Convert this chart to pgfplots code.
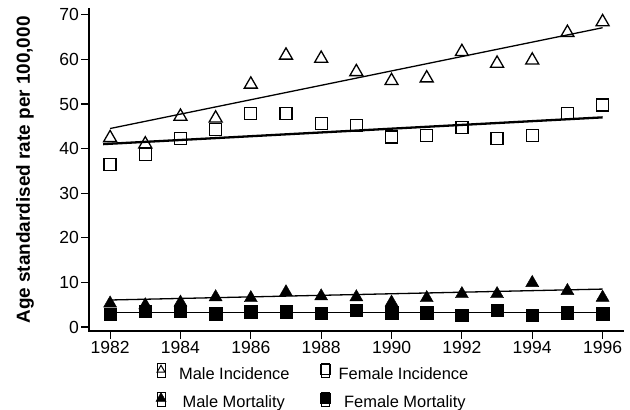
\documentclass[border=0pt]{standalone}
\usepackage{pgfplots}
\pgfplotsset{compat=1.18}
\usepackage{fontspec}
\setmainfont{Liberation Sans}

% Annual rates, 1982--1996
\pgfplotstableread{
year  mi    fi    mm   fm
1982  42.4  36.5  5.3  2.8
1983  41.0  38.6  4.9  3.5
1984  47.2  42.3  5.5  3.5
1985  46.8  44.3  6.7  3.0
1986  54.4  47.8  6.5  3.4
1987  60.9  47.8  7.8  3.4
1988  60.2  45.7  6.9  3.1
1989  57.2  45.1  6.7  3.8
1990  55.2  42.6  5.5  3.2
1991  55.8  42.9  6.5  3.2
1992  61.7  44.8  7.4  2.6
1993  59.1  42.2  7.4  3.7
1994  59.8  42.9  9.9  2.7
1995  66.0  47.8  8.1  3.2
1996  68.4  49.8  6.6  3.0
}\rates

\begin{document}
\begin{tikzpicture}
\path[use as bounding box] (-89bp,-79bp) rectangle (541bp,331bp);
\begin{axis}[
  scale only axis, width=534bp, height=322bp,
  xmin=1981.4, xmax=1996.58, ymin=-0.9, ymax=71.3,
  axis x line*=bottom, axis y line*=left,
  axis line style={line width=2.4bp, -, line cap=rect},
  xtick={1982,1984,...,1996}, ytick={0,10,...,70},
  tick align=outside, major tick length=8bp,
  tick style={black, line width=1.2bp},
  /pgf/number format/assume math mode=true,
  /pgf/number format/1000 sep={},
  tick label style={font=\fontsize{17.6}{21}\selectfont, inner sep=2bp},
  ylabel={Age standardised rate per 100,000},
  ylabel style={font=\bfseries\fontsize{19}{23}\selectfont,
    at={(axis description cs:-0.1199,0.5)}, anchor=center},
  legend columns=2,
  legend cell align=left,
  legend image code/.code={%
    \path (-4bp,-2bp) rectangle (4bp,12bp);
    \draw[#1] plot coordinates {(0bp,5.5bp)};},
  legend style={draw=none, fill=none, inner sep=0pt, outer sep=0pt,
    at={(axis description cs:0.1255,-0.1000)}, anchor=north west,
    row sep=8.3bp,
    font=\fontsize{16.5}{19}\selectfont,
    nodes={inner sep=0pt, text height=12bp, text depth=4bp},
    /tikz/column 1/.append style={column sep=13bp},
    /tikz/column 2/.append style={column sep=31bp},
    /tikz/column 3/.append style={column sep=8bp}},
]
% legend entries
\addlegendimage{only marks, mark=triangle, mark size=4.6bp, mark options={line width=1bp}}
\addlegendentry{Male Incidence}
\addlegendimage{only marks, mark=square, mark size=5bp, mark options={line width=1bp}}
\addlegendentry{Female Incidence}
\addlegendimage{only marks, mark=triangle*, mark size=5.8bp}
\addlegendentry{\hspace*{3.5bp}Male Mortality}
\addlegendimage{only marks, mark=square*, mark size=5bp}
\addlegendentry{\hspace*{5.5bp}Female Mortality}

% fitted trends
\addplot[black, line width=1.3bp, forget plot] coordinates {(1982,44.5) (1996,67.1)};
\addplot[black, line width=2.3bp, forget plot] coordinates {(1981.8,41.0) (1996,47.0)};
\addplot[black, line width=1.3bp, forget plot] coordinates {(1982,6.05) (1996,8.5)};
\addplot[black, line width=1.3bp, forget plot] coordinates {(1982,3.2) (1996,3.2)};

% observed rates
\addplot[black, only marks, mark=triangle, mark size=7.5bp, mark options={line width=1.3bp}, forget plot] table[x=year, y=mi] {\rates};
\addplot[black, only marks, mark=square, mark size=6bp, mark options={line width=1.3bp}, forget plot] table[x=year, y=fi] {\rates};
\addplot[black, only marks, mark=square*, mark size=6.2bp, forget plot] table[x=year, y=fm] {\rates};
\addplot[black, only marks, mark=triangle*, mark size=7.5bp, forget plot] table[x=year, y=mm] {\rates};
\end{axis}
\end{tikzpicture}
\end{document}
